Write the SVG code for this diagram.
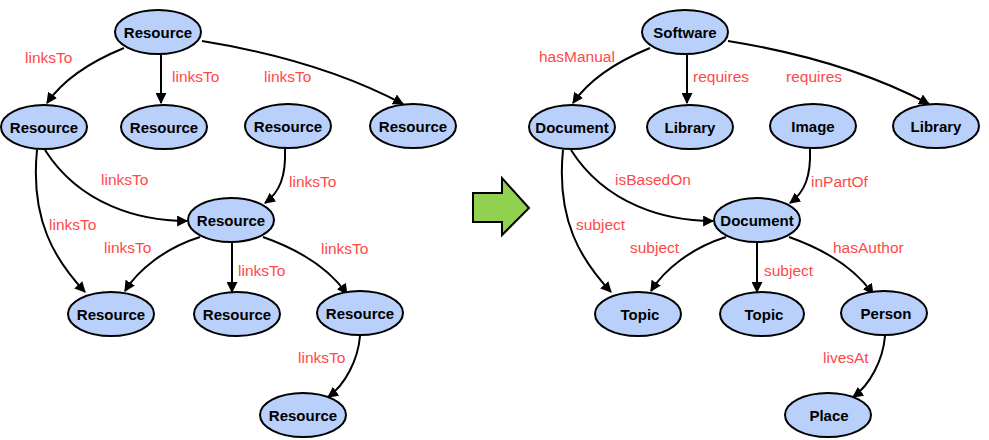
<svg xmlns="http://www.w3.org/2000/svg" width="989" height="440" viewBox="0 0 989 440">
<defs>
<marker id="ah" viewBox="0 0 10 10" refX="9" refY="5" markerWidth="11" markerHeight="11" markerUnits="userSpaceOnUse" orient="auto">
<path d="M0,0 L10,5 L0,10 z" fill="#000"/>
</marker>
<style>
.n ellipse{fill:#b9d0fb;stroke:#000;stroke-width:2}
.n text{font-family:"Liberation Sans",Arial,sans-serif;font-weight:bold;font-size:15px;fill:#000;text-anchor:middle}
.e path{fill:none;stroke:#000;stroke-width:2;marker-end:url(#ah)}
.l{font-family:"Liberation Sans",Arial,sans-serif;font-size:15.5px;fill:#ff4848}
</style>
</defs>
<rect width="989" height="440" fill="#fff"/>

<g id="connectors" class="e">
<path d="M124,48 Q70,70 47,103"/>
<path d="M161,55 L161,103"/>
<path d="M202,41 Q320,60 403,104"/>
<path d="M45,150 C80,205 140,221 187,221"/>
<path d="M37,150 C30,220 55,260 85,292"/>
<path d="M285,149 C286,176 280,192 265,203"/>
<path d="M200,237 C165,248 138,270 125,291"/>
<path d="M232,243 L232,292"/>
<path d="M263,237 C300,250 330,270 347,294"/>
<path d="M360,336 C358,360 345,385 328,397"/>

<path d="M650,48 Q596,70 573,103"/>
<path d="M687,55 L687,103"/>
<path d="M728,41 Q846,60 929,104"/>
<path d="M571,150 C606,205 666,221 713,221"/>
<path d="M563,150 C556,220 581,260 611,292"/>
<path d="M810,149 C811,176 805,192 790,203"/>
<path d="M726,237 C691,248 664,270 651,291"/>
<path d="M757,243 L757,292"/>
<path d="M789,237 C826,250 856,270 873,294"/>
<path d="M885,336 C883,360 870,385 853,397"/>
</g>

<g id="labels">
<text class="l" x="25" y="63">linksTo</text>
<text class="l" x="172" y="82">linksTo</text>
<text class="l" x="264" y="82">linksTo</text>
<text class="l" x="101" y="185">linksTo</text>
<text class="l" x="289" y="187">linksTo</text>
<text class="l" x="49" y="230">linksTo</text>
<text class="l" x="104" y="253">linksTo</text>
<text class="l" x="238" y="276">linksTo</text>
<text class="l" x="321" y="254">linksTo</text>
<text class="l" x="298" y="363">linksTo</text>

<text class="l" x="539" y="62">hasManual</text>
<text class="l" x="693" y="82">requires</text>
<text class="l" x="786" y="82">requires</text>
<text class="l" x="615" y="185">isBasedOn</text>
<text class="l" x="811" y="187">inPartOf</text>
<text class="l" x="576" y="230">subject</text>
<text class="l" x="630" y="253">subject</text>
<text class="l" x="764" y="276">subject</text>
<text class="l" x="833" y="253">hasAuthor</text>
<text class="l" x="823" y="363">livesAt</text>
</g>

<g id="n1" class="n"><ellipse cx="158" cy="32" rx="43" ry="22"/><text x="158" y="38">Resource</text></g>
<g id="n2" class="n"><ellipse cx="44" cy="127" rx="43" ry="22"/><text x="44" y="133">Resource</text></g>
<g id="n3" class="n"><ellipse cx="164" cy="127" rx="43" ry="22"/><text x="164" y="133">Resource</text></g>
<g id="n4" class="n"><ellipse cx="288" cy="126" rx="43" ry="22"/><text x="288" y="132">Resource</text></g>
<g id="n5" class="n"><ellipse cx="413" cy="126" rx="43" ry="22"/><text x="413" y="132">Resource</text></g>
<g id="n6" class="n"><ellipse cx="231" cy="220" rx="43" ry="22"/><text x="231" y="226">Resource</text></g>
<g id="n7" class="n"><ellipse cx="111" cy="314" rx="43" ry="22"/><text x="111" y="320">Resource</text></g>
<g id="n8" class="n"><ellipse cx="237" cy="314" rx="43" ry="22"/><text x="237" y="320">Resource</text></g>
<g id="n9" class="n"><ellipse cx="360" cy="313" rx="43" ry="22"/><text x="360" y="319">Resource</text></g>
<g id="n10" class="n"><ellipse cx="303" cy="415" rx="43" ry="22"/><text x="303" y="421">Resource</text></g>

<g id="m1" class="n"><ellipse cx="685" cy="32" rx="43" ry="22"/><text x="685" y="38">Software</text></g>
<g id="m2" class="n"><ellipse cx="572" cy="127" rx="43" ry="22"/><text x="572" y="133">Document</text></g>
<g id="m3" class="n"><ellipse cx="690" cy="127" rx="43" ry="22"/><text x="690" y="133">Library</text></g>
<g id="m4" class="n"><ellipse cx="813" cy="126" rx="43" ry="22"/><text x="813" y="132">Image</text></g>
<g id="m5" class="n"><ellipse cx="936" cy="126" rx="43" ry="22"/><text x="936" y="132">Library</text></g>
<g id="m6" class="n"><ellipse cx="757" cy="220" rx="43" ry="22"/><text x="757" y="226">Document</text></g>
<g id="m7" class="n"><ellipse cx="638" cy="314" rx="43" ry="22"/><text x="640" y="320">Topic</text></g>
<g id="m8" class="n"><ellipse cx="762" cy="314" rx="42" ry="22"/><text x="764" y="320">Topic</text></g>
<g id="m9" class="n"><ellipse cx="884" cy="313" rx="43" ry="22"/><text x="886" y="319">Person</text></g>
<g id="m10" class="n"><ellipse cx="828" cy="415" rx="43" ry="22"/><text x="829" y="421">Place</text></g>

<g id="bigArrow">
<polygon points="473,193 502,193 502,178 529,208 502,235 502,222 473,222" fill="#92d050" stroke="#000" stroke-width="2" stroke-linejoin="miter"/>
</g>
</svg>
